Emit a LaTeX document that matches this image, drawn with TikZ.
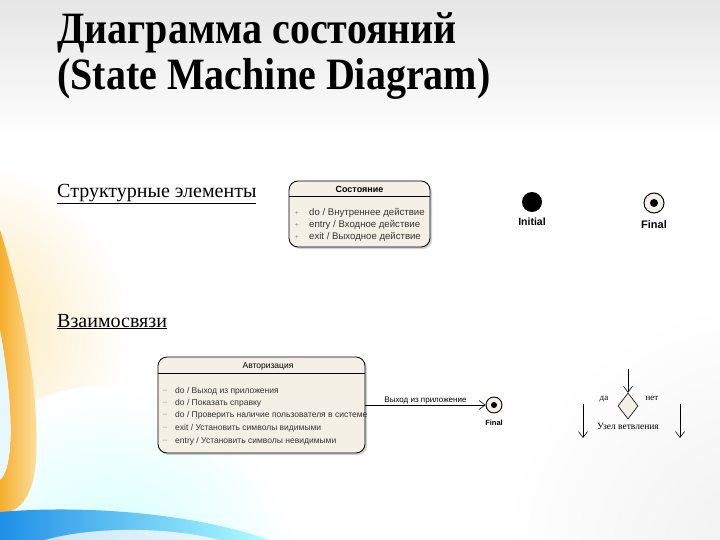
\documentclass[tikz,border=0pt]{standalone}
\usepackage{fontspec}
\setmainfont{Liberation Serif}
\newfontfamily\umlfont{Liberation Sans}
\usepackage{xcolor}
\usetikzlibrary{positioning,shadows,shapes.geometric,arrows.meta}
\definecolor{boxfill}{HTML}{F4F0E6}
\definecolor{entrygray}{HTML}{333333}
\definecolor{markgray}{HTML}{8A8A8A}
\definecolor{swooshorange}{HTML}{F6AE2D}
\definecolor{swooshlight}{HTML}{FCE3A6}
\definecolor{swooshblue}{HTML}{1F8FE8}

\begin{document}
\begin{tikzpicture}[x=1pt, y=-1pt,
  statebox/.style={draw, rounded corners=9pt, fill=boxfill, line width=.8pt,
    drop shadow={opacity=.35, shadow xshift=2pt, shadow yshift=-2pt}},
  entry/.style={anchor=west, inner sep=0pt, text=entrygray, font=\umlfont\fontsize{8.5}{9}\selectfont},
  vismark/.style={anchor=center, inner sep=0pt, text=markgray, font=\umlfont\fontsize{7}{7}\selectfont},
  umlarrow/.style={-{Straight Barb[length=6pt, width=9pt]}, line width=.6pt}]
  % background
  \fill[white] (0,0) rectangle (720,540);
  \shade[top color=gray!20, bottom color=white] (0,0) rectangle (720,140);
  \begin{scope}
    \clip (0,0) rectangle (720,540);
    \shade[inner color=gray!12, outer color=white] (760,560) circle (260);
    \shade[inner color=swooshlight!90, outer color=white] (-40,330) circle (170);
    \shade[inner color=cyan!18, outer color=white] (110,575) circle (190);
    \shade[left color=swooshorange, right color=swooshlight] (0,230) .. controls (22,300) and (40,390) .. (36,460)
      .. controls (33,500) and (18,512) .. (0,514) -- (0,480) .. controls (12,470) and (16,420) .. (0,330) -- cycle;
    \fill[cyan!10] (0,330) .. controls (16,420) and (12,470) .. (0,480) -- cycle;
    \shade[left color=swooshblue, right color=cyan!30] (0,512) .. controls (80,505) and (190,512) .. (270,540) -- (0,540) -- cycle;
    \fill[white, opacity=.75] (45,540) .. controls (90,527) and (165,526) .. (220,540) -- cycle;
  \end{scope}
  % title
  \node[anchor=base west, inner sep=0pt, font=\fontsize{40}{40}\selectfont\bfseries] (title1) at (57,44) {\scalebox{1}[1.12]{Диаграмма состояний}};
  \node[anchor=base west, inner sep=0pt, font=\fontsize{40}{40}\selectfont\bfseries] (title2) at (57,90) {\scalebox{1}[1.12]{(State Machine Diagram)}};
  \node[anchor=base west, inner sep=0pt, font=\fontsize{20}{20}\selectfont] (struct) at (57,197) {\underline{Структурные элементы}};
  \node[anchor=base west, inner sep=0pt, font=\fontsize{20}{20}\selectfont] (links) at (57,327) {\underline{Взаимосвязи}};
  % state
  \node[statebox, minimum width=141pt, minimum height=66pt] (sost) at (359.5,214) {};
  \node[inner sep=0pt, font=\umlfont\bfseries\fontsize{9}{9}\selectfont] (sosttitle) at (359.5,189) {Состояние};
  \draw[line width=.6pt] ([yshift=-16pt]sost.north west) -- ([yshift=-16pt]sost.north east);
  \node[vismark] (sm1) at (297,213) {+};
  \node[vismark] (sm2) at (297,225) {+};
  \node[vismark] (sm3) at (297,237) {+};
  \node[entry, font=\umlfont\fontsize{9.6}{10}\selectfont] (se1) at (309,213) {do / Внутреннее действие};
  \node[entry, font=\umlfont\fontsize{9.6}{10}\selectfont] (se2) at (309,225) {entry / Входное действие};
  \node[entry, font=\umlfont\fontsize{9.6}{10}\selectfont] (se3) at (309,237) {exit / Выходное действие};
  % initial and final
  \node[circle, fill=black, minimum size=20pt, inner sep=0pt] (init) at (532,202) {};
  \node[below=5pt of init, inner sep=0pt, font=\umlfont\bfseries\fontsize{10.5}{11}\selectfont] (initlabel) {Initial};
  \node[circle, draw, line width=1pt, fill=boxfill, minimum size=20pt, inner sep=0pt] (fin) at (654,203) {};
  \node[circle, fill=black, minimum size=8pt, inner sep=0pt] (findot) at (fin) {};
  \node[below=7pt of fin, inner sep=0pt, font=\umlfont\bfseries\fontsize{11}{11}\selectfont] (finlabel) {Final};
  % authorization
  \node[statebox, minimum width=207pt, minimum height=96pt] (auth) at (261.5,405) {};
  \node[inner sep=0pt, font=\umlfont\fontsize{8.5}{9}\selectfont] (authtitle) at (268,366) {Авторизация};
  \draw[line width=.6pt] ([yshift=-17pt]auth.north west) -- ([yshift=-17pt]auth.north east);
  \node[vismark] (am1) at (165,391) {--};
  \node[vismark] (am2) at (165,403) {--};
  \node[vismark] (am3) at (165,415) {--};
  \node[vismark] (am4) at (165,428) {--};
  \node[vismark] (am5) at (165,441) {--};
  \node[entry] (ae1) at (175,391) {do / Выход из приложения};
  \node[entry] (ae2) at (175,403) {do / Показать справку};
  \node[entry] (ae3) at (175,415) {do / Проверить наличие пользователя в системе};
  \node[entry] (ae4) at (175,428) {exit / Установить символы видимыми};
  \node[entry] (ae5) at (175,441) {entry / Установить символы невидимыми};
  \node[circle, draw, line width=.9pt, fill=boxfill, minimum size=16pt, inner sep=0pt] (fin2) at (494,405) {};
  \node[circle, fill=black, minimum size=6pt, inner sep=0pt] (fin2dot) at (fin2) {};
  \node[below=6pt of fin2, inner sep=0pt, font=\umlfont\bfseries\fontsize{7.5}{8}\selectfont] (fin2label) {Final};
  \draw[umlarrow] (auth.east |- fin2) -- (fin2.west) node[midway, above=1pt, inner sep=0pt, font=\umlfont\fontsize{8}{8}\selectfont] (exitlabel) {Выход из приложение};
  % decision
  \node[diamond, draw, fill=boxfill, line width=.6pt, minimum width=20pt, minimum height=26pt, inner sep=0pt] (dec) at (628,406) {};
  \coordinate (decin) at (628,369);
  \draw[umlarrow] (decin) -- (dec.north);
  \node[inner sep=0pt, font=\fontsize{9}{9}\selectfont] (yes) at (604,399) {да};
  \node[inner sep=0pt, font=\fontsize{9}{9}\selectfont] (no) at (652,398) {нет};
  \node[below=4pt of dec, inner sep=0pt, font=\fontsize{9.5}{10}\selectfont] (declabel) {Узел ветвления};
  \coordinate (lefttop) at (583,404);
  \coordinate (leftend) at (583,438);
  \coordinate (righttop) at (680,404);
  \coordinate (rightend) at (680,438);
  \draw[umlarrow] (lefttop) -- (leftend);
  \draw[umlarrow] (righttop) -- (rightend);
\end{tikzpicture}
\end{document}
